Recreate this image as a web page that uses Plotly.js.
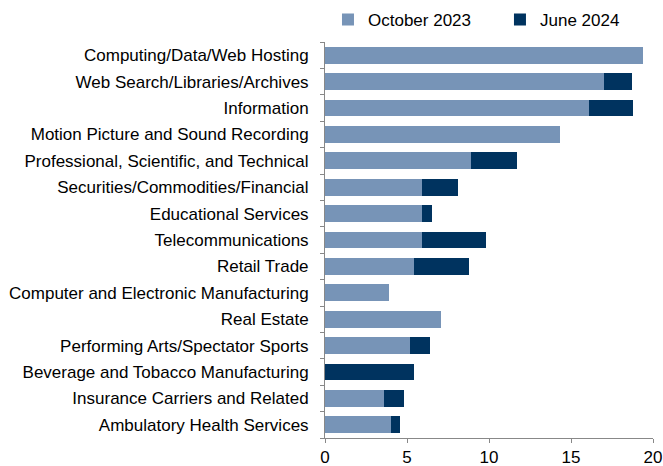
<!DOCTYPE html>
<html>
<head>
<meta charset="utf-8">
<script src="https://cdn.plot.ly/plotly-3.0.1.min.js"></script>
<style>html,body{margin:0;padding:0;background:#fff;}#chart{width:663px;height:466px;}</style>
</head>
<body>
<div id="chart"></div>
<script>
const categories = [
  "Computing/Data/Web Hosting",
  "Web Search/Libraries/Archives",
  "Information",
  "Motion Picture and Sound Recording",
  "Professional, Scientific, and Technical",
  "Securities/Commodities/Financial",
  "Educational Services",
  "Telecommunications",
  "Retail Trade",
  "Computer and Electronic Manufacturing",
  "Real Estate",
  "Performing Arts/Spectator Sports",
  "Beverage and Tobacco Manufacturing",
  "Insurance Carriers and Related",
  "Ambulatory Health Services"
];
const october2023 = [19.4, 17.0, 16.1, 14.3, 8.9, 5.9, 5.9, 5.9, 5.4, 3.9, 7.1, 5.2, 0, 3.6, 4.0];
const june2024    = [0, 1.7, 2.7, 0, 2.8, 2.2, 0.6, 3.9, 3.4, 0, 0, 1.2, 5.4, 1.2, 0.6];
const boundaryTicks = [-0.5,0.5,1.5,2.5,3.5,4.5,5.5,6.5,7.5,8.5,9.5,10.5,11.5,12.5,13.5,14.5];
const xTicks = [0, 5, 10, 15, 20];

const font = {family: "Liberation Sans, Arial, sans-serif", size: 17, color: "#000"};

const traces = [
  {type: "bar", orientation: "h", name: "October 2023", y: categories, x: october2023,
   marker: {color: "#7794B7"}, hoverinfo: "skip", legend: "legend"},
  {type: "bar", orientation: "h", name: "June 2024", y: categories, x: june2024,
   marker: {color: "#00335F"}, hoverinfo: "skip", legend: "legend2"},
  {type: "scatter", x: [], y: [], yaxis: "y2", showlegend: false, hoverinfo: "skip"}
];

const legendBase = {orientation: "h", xref: "container", yref: "container",
                    xanchor: "left", y: 0.996, yanchor: "top", font: font, itemclick: false};

const layout = {
  width: 663, height: 466,
  margin: {l: 325, r: 10, t: 42, b: 28},
  paper_bgcolor: "#fff", plot_bgcolor: "#fff",
  font: font,
  barmode: "stack",
  bargap: 0.37,
  showlegend: true,
  legend: Object.assign({}, legendBase, {x: 0.4947}),
  legend2: Object.assign({}, legendBase, {x: 0.7541}),
  xaxis: {range: [0, 20], tickvals: xTicks, showgrid: false, zeroline: false,
          showline: true, linecolor: "#888", linewidth: 1,
          ticks: "outside", ticklen: 4, tickcolor: "#888", tickfont: font, fixedrange: true},
  yaxis: {type: "category", autorange: "reversed", showgrid: false, zeroline: false,
          showline: true, linecolor: "#888", linewidth: 1,
          ticks: "", ticklabelstandoff: 12, tickfont: font, fixedrange: true},
  yaxis2: {overlaying: "y", side: "left", anchor: "x", range: [14.5, -0.5],
           tickvals: boundaryTicks, showticklabels: false, ticks: "outside", ticklen: 4,
           tickcolor: "#888", showgrid: false, zeroline: false, showline: false, fixedrange: true}
};

Plotly.newPlot("chart", traces, layout, {displayModeBar: false, staticPlot: true});
</script>
</body>
</html>
